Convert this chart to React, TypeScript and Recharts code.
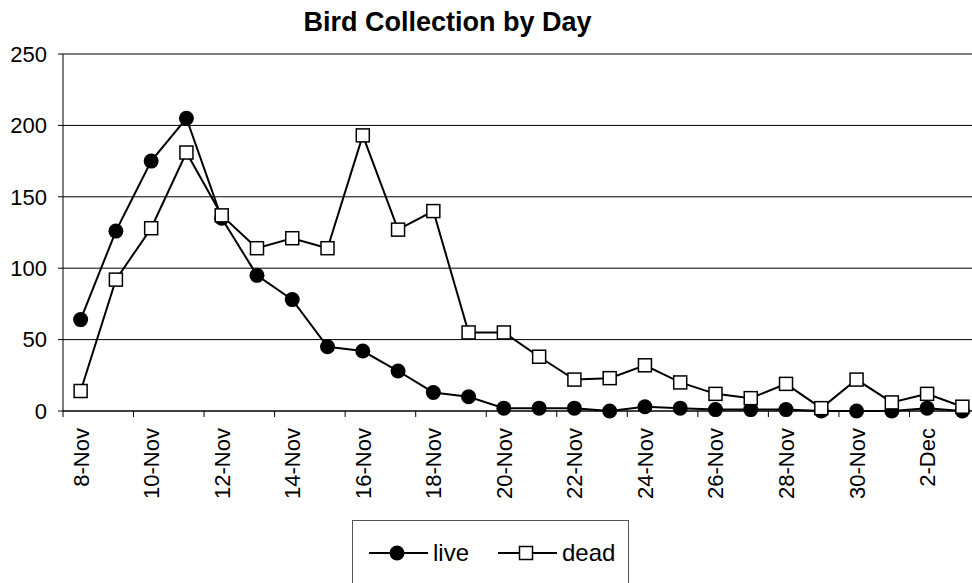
import React from 'react';
import { LineChart, Line, XAxis, YAxis, CartesianGrid, Legend } from 'recharts';

const days = [
  '8-Nov', '9-Nov', '10-Nov', '11-Nov', '12-Nov', '13-Nov', '14-Nov', '15-Nov',
  '16-Nov', '17-Nov', '18-Nov', '19-Nov', '20-Nov', '21-Nov', '22-Nov', '23-Nov',
  '24-Nov', '25-Nov', '26-Nov', '27-Nov', '28-Nov', '29-Nov', '30-Nov',
  '1-Dec', '2-Dec', '3-Dec',
];
const liveCounts = [64, 126, 175, 205, 135, 95, 78, 45, 42, 28, 13, 10, 2, 2, 2, 0, 3, 2, 1, 1, 1, 0, 0, 0, 2, 0];
const deadCounts = [14, 92, 128, 181, 137, 114, 121, 114, 193, 127, 140, 55, 55, 38, 22, 23, 32, 20, 12, 9, 19, 2, 22, 6, 12, 3];
const yTicks = [0, 50, 100, 150, 200, 250];
const title = 'Bird Collection by Day';
const seriesOrder = ['live', 'dead'];

const data = days.map((d, i) => ({ day: d, live: liveCounts[i], dead: deadCounts[i] }));

const W = 972;
const H = 583;
const yAxisWidth = 63;
const xAxisHeight = 30;
const margin = { top: 54, right: -8, left: 0, bottom: 172 - xAxisHeight };
const band = (W - margin.left - yAxisWidth - margin.right) / days.length;
const FONT = '"Liberation Sans", Arial, sans-serif';

const markerOf: Record<string, string> = { live: 'circle', dead: 'square' };

function XTick(props: any) {
  const { x, y, payload } = props;
  const bx = x - band / 2;
  return (
    <g>
      <line x1={bx} y1={y} x2={bx} y2={y + 6} stroke="#000" strokeWidth={1} />
      <text
        transform={`translate(${x + 8},${y + 17}) rotate(-90)`}
        textAnchor="end"
        fontSize={22}
        fill="#000"
        fontFamily={FONT}
      >
        {payload.value}
      </text>
    </g>
  );
}

function LiveDot(props: any) {
  const { cx, cy, index } = props;
  if (cx == null || cy == null) return <g key={index} />;
  return <circle key={index} cx={cx} cy={cy} r={7.5} fill="#000" />;
}

function DeadDot(props: any) {
  const { cx, cy, index } = props;
  if (cx == null || cy == null) return <g key={index} />;
  return (
    <rect key={index} x={cx - 6.5} y={cy - 6.5} width={13} height={13} fill="#fff" stroke="#000" strokeWidth={1.5} />
  );
}

function LegendContent(props: any) {
  const { payload = [] } = props;
  const items = [...payload].sort(
    (a: any, b: any) => seriesOrder.indexOf(a.dataKey) - seriesOrder.indexOf(b.dataKey)
  );
  return (
    <div style={{ display: 'flex', alignItems: 'center', height: 63, paddingLeft: 16, boxSizing: 'border-box' }}>
      {items.map((entry: any) => (
        <div key={entry.dataKey} style={{ display: 'flex', alignItems: 'center', marginRight: 29 }}>
          <svg width={59} height={20} style={{ display: 'block' }}>
            <line x1={0} y1={10} x2={59} y2={10} stroke="#000" strokeWidth={2} />
            {markerOf[entry.dataKey] === 'circle' ? (
              <circle cx={28} cy={10} r={7.5} fill="#000" />
            ) : (
              <rect x={21.5} y={3.5} width={13} height={13} fill="#fff" stroke="#000" strokeWidth={1.5} />
            )}
          </svg>
          <span style={{ marginLeft: 5, fontSize: 24, fontFamily: FONT, color: '#000', lineHeight: '24px' }}>
            {entry.value}
          </span>
        </div>
      ))}
    </div>
  );
}

export default function App() {
  return (
    <div style={{ position: 'absolute', left: 0, top: 0, width: W, height: H, background: '#fff', overflow: 'hidden', fontFamily: FONT }}>
      <div
        style={{
          position: 'absolute',
          left: 0,
          top: 9,
          width: 895,
          textAlign: 'center',
          fontSize: 27,
          lineHeight: '27px',
          fontWeight: 'bold',
          color: '#000',
          fontFamily: FONT,
        }}
      >
        {title}
      </div>
      <LineChart width={W} height={H} data={data} margin={margin}>
        <CartesianGrid vertical={false} stroke="#000" strokeWidth={1} />
        <XAxis
          dataKey="day"
          height={xAxisHeight}
          interval={1}
          padding={{ left: band / 2, right: band / 2 }}
          tickLine={false}
          tickSize={0}
          tickMargin={0}
          axisLine={{ stroke: '#000', strokeWidth: 1 }}
          tick={<XTick />}
        />
        <YAxis
          width={yAxisWidth}
          domain={[0, 250]}
          ticks={yTicks}
          interval={0}
          tickSize={5}
          tickMargin={11}
          axisLine={{ stroke: '#000', strokeWidth: 1 }}
          tickLine={{ stroke: '#000', strokeWidth: 1 }}
          tick={{ fontSize: 22, fill: '#000', fontFamily: FONT }}
        />
        <Legend
          verticalAlign="middle"
          align="center"
          layout="horizontal"
          content={<LegendContent />}
          wrapperStyle={{
            left: 352,
            top: 520,
            width: 277,
            height: 65,
            border: '1px solid #555',
            background: '#fff',
            boxSizing: 'border-box',
          }}
        />
        <Line
          type="linear"
          dataKey="live"
          name="live"
          stroke="#000"
          strokeWidth={2}
          dot={LiveDot}
          activeDot={false}
          isAnimationActive={false}
        />
        <Line
          type="linear"
          dataKey="dead"
          name="dead"
          stroke="#000"
          strokeWidth={2}
          dot={DeadDot}
          activeDot={false}
          isAnimationActive={false}
        />
      </LineChart>
    </div>
  );
}
